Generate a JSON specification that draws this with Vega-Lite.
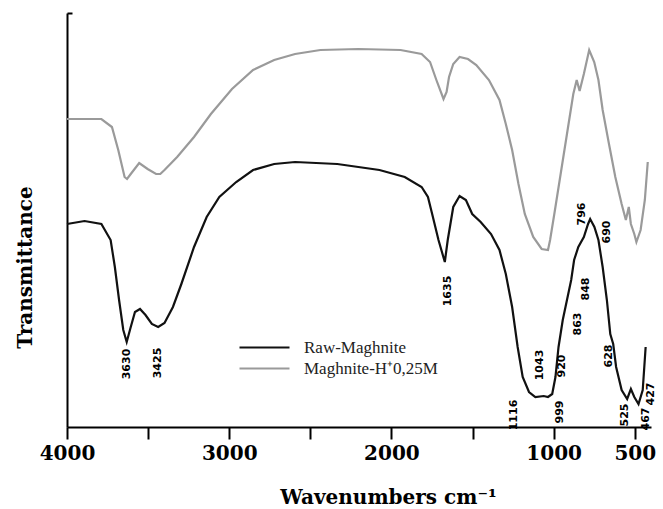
{
  "$schema": "https://vega.github.io/schema/vega-lite/v6.json",
  "width": 584,
  "height": 414,
  "autosize": "none",
  "padding": {"left": 67, "top": 13, "right": 12, "bottom": 82},
  "background": "#ffffff",
  "config": {"view": {"stroke": null}},
  "datasets": {
    "spectra": [
      {"wn": 4000, "T": 308, "series": "Maghnite-H⁺0,25M"},
      {"wn": 3788, "T": 308, "series": "Maghnite-H⁺0,25M"},
      {"wn": 3723, "T": 300, "series": "Maghnite-H⁺0,25M"},
      {"wn": 3684, "T": 277, "series": "Maghnite-H⁺0,25M"},
      {"wn": 3645, "T": 250, "series": "Maghnite-H⁺0,25M"},
      {"wn": 3630, "T": 248, "series": "Maghnite-H⁺0,25M"},
      {"wn": 3607, "T": 253, "series": "Maghnite-H⁺0,25M"},
      {"wn": 3555, "T": 264, "series": "Maghnite-H⁺0,25M"},
      {"wn": 3503, "T": 258, "series": "Maghnite-H⁺0,25M"},
      {"wn": 3451, "T": 253, "series": "Maghnite-H⁺0,25M"},
      {"wn": 3425, "T": 253, "series": "Maghnite-H⁺0,25M"},
      {"wn": 3399, "T": 257, "series": "Maghnite-H⁺0,25M"},
      {"wn": 3321, "T": 270, "series": "Maghnite-H⁺0,25M"},
      {"wn": 3217, "T": 290, "series": "Maghnite-H⁺0,25M"},
      {"wn": 3113, "T": 313, "series": "Maghnite-H⁺0,25M"},
      {"wn": 2983, "T": 338, "series": "Maghnite-H⁺0,25M"},
      {"wn": 2853, "T": 357, "series": "Maghnite-H⁺0,25M"},
      {"wn": 2723, "T": 367, "series": "Maghnite-H⁺0,25M"},
      {"wn": 2594, "T": 373, "series": "Maghnite-H⁺0,25M"},
      {"wn": 2438, "T": 377, "series": "Maghnite-H⁺0,25M"},
      {"wn": 2204, "T": 378, "series": "Maghnite-H⁺0,25M"},
      {"wn": 1944, "T": 377, "series": "Maghnite-H⁺0,25M"},
      {"wn": 1814, "T": 373, "series": "Maghnite-H⁺0,25M"},
      {"wn": 1762, "T": 365, "series": "Maghnite-H⁺0,25M"},
      {"wn": 1723, "T": 347, "series": "Maghnite-H⁺0,25M"},
      {"wn": 1679, "T": 328, "series": "Maghnite-H⁺0,25M"},
      {"wn": 1660, "T": 335, "series": "Maghnite-H⁺0,25M"},
      {"wn": 1645, "T": 350, "series": "Maghnite-H⁺0,25M"},
      {"wn": 1619, "T": 363, "series": "Maghnite-H⁺0,25M"},
      {"wn": 1580, "T": 370, "series": "Maghnite-H⁺0,25M"},
      {"wn": 1528, "T": 368, "series": "Maghnite-H⁺0,25M"},
      {"wn": 1477, "T": 362, "series": "Maghnite-H⁺0,25M"},
      {"wn": 1399, "T": 347, "series": "Maghnite-H⁺0,25M"},
      {"wn": 1334, "T": 327, "series": "Maghnite-H⁺0,25M"},
      {"wn": 1295, "T": 303, "series": "Maghnite-H⁺0,25M"},
      {"wn": 1256, "T": 277, "series": "Maghnite-H⁺0,25M"},
      {"wn": 1217, "T": 243, "series": "Maghnite-H⁺0,25M"},
      {"wn": 1178, "T": 213, "series": "Maghnite-H⁺0,25M"},
      {"wn": 1126, "T": 190, "series": "Maghnite-H⁺0,25M"},
      {"wn": 1074, "T": 178, "series": "Maghnite-H⁺0,25M"},
      {"wn": 1035, "T": 177, "series": "Maghnite-H⁺0,25M"},
      {"wn": 1022, "T": 187, "series": "Maghnite-H⁺0,25M"},
      {"wn": 996, "T": 213, "series": "Maghnite-H⁺0,25M"},
      {"wn": 957, "T": 253, "series": "Maghnite-H⁺0,25M"},
      {"wn": 918, "T": 293, "series": "Maghnite-H⁺0,25M"},
      {"wn": 879, "T": 333, "series": "Maghnite-H⁺0,25M"},
      {"wn": 858, "T": 347, "series": "Maghnite-H⁺0,25M"},
      {"wn": 840, "T": 336, "series": "Maghnite-H⁺0,25M"},
      {"wn": 814, "T": 353, "series": "Maghnite-H⁺0,25M"},
      {"wn": 781, "T": 377, "series": "Maghnite-H⁺0,25M"},
      {"wn": 750, "T": 365, "series": "Maghnite-H⁺0,25M"},
      {"wn": 724, "T": 347, "series": "Maghnite-H⁺0,25M"},
      {"wn": 698, "T": 317, "series": "Maghnite-H⁺0,25M"},
      {"wn": 659, "T": 283, "series": "Maghnite-H⁺0,25M"},
      {"wn": 620, "T": 250, "series": "Maghnite-H⁺0,25M"},
      {"wn": 581, "T": 223, "series": "Maghnite-H⁺0,25M"},
      {"wn": 555, "T": 207, "series": "Maghnite-H⁺0,25M"},
      {"wn": 537, "T": 220, "series": "Maghnite-H⁺0,25M"},
      {"wn": 524, "T": 203, "series": "Maghnite-H⁺0,25M"},
      {"wn": 503, "T": 193, "series": "Maghnite-H⁺0,25M"},
      {"wn": 490, "T": 185, "series": "Maghnite-H⁺0,25M"},
      {"wn": 464, "T": 197, "series": "Maghnite-H⁺0,25M"},
      {"wn": 438, "T": 227, "series": "Maghnite-H⁺0,25M"},
      {"wn": 420, "T": 265, "series": "Maghnite-H⁺0,25M"},
      {"wn": 4000, "T": 203, "series": "Raw-Maghnite"},
      {"wn": 3892, "T": 206, "series": "Raw-Maghnite"},
      {"wn": 3788, "T": 203, "series": "Raw-Maghnite"},
      {"wn": 3731, "T": 187, "series": "Raw-Maghnite"},
      {"wn": 3705, "T": 160, "series": "Raw-Maghnite"},
      {"wn": 3679, "T": 127, "series": "Raw-Maghnite"},
      {"wn": 3653, "T": 97, "series": "Raw-Maghnite"},
      {"wn": 3632, "T": 85, "series": "Raw-Maghnite"},
      {"wn": 3607, "T": 100, "series": "Raw-Maghnite"},
      {"wn": 3581, "T": 115, "series": "Raw-Maghnite"},
      {"wn": 3550, "T": 118, "series": "Raw-Maghnite"},
      {"wn": 3516, "T": 112, "series": "Raw-Maghnite"},
      {"wn": 3477, "T": 103, "series": "Raw-Maghnite"},
      {"wn": 3438, "T": 100, "series": "Raw-Maghnite"},
      {"wn": 3399, "T": 104, "series": "Raw-Maghnite"},
      {"wn": 3347, "T": 120, "series": "Raw-Maghnite"},
      {"wn": 3295, "T": 143, "series": "Raw-Maghnite"},
      {"wn": 3217, "T": 180, "series": "Raw-Maghnite"},
      {"wn": 3139, "T": 210, "series": "Raw-Maghnite"},
      {"wn": 3061, "T": 230, "series": "Raw-Maghnite"},
      {"wn": 2957, "T": 245, "series": "Raw-Maghnite"},
      {"wn": 2853, "T": 257, "series": "Raw-Maghnite"},
      {"wn": 2723, "T": 263, "series": "Raw-Maghnite"},
      {"wn": 2594, "T": 265, "series": "Raw-Maghnite"},
      {"wn": 2334, "T": 263, "series": "Raw-Maghnite"},
      {"wn": 2074, "T": 257, "series": "Raw-Maghnite"},
      {"wn": 1918, "T": 250, "series": "Raw-Maghnite"},
      {"wn": 1814, "T": 240, "series": "Raw-Maghnite"},
      {"wn": 1775, "T": 230, "series": "Raw-Maghnite"},
      {"wn": 1749, "T": 213, "series": "Raw-Maghnite"},
      {"wn": 1710, "T": 187, "series": "Raw-Maghnite"},
      {"wn": 1671, "T": 165, "series": "Raw-Maghnite"},
      {"wn": 1653, "T": 187, "series": "Raw-Maghnite"},
      {"wn": 1619, "T": 220, "series": "Raw-Maghnite"},
      {"wn": 1580, "T": 231, "series": "Raw-Maghnite"},
      {"wn": 1541, "T": 227, "series": "Raw-Maghnite"},
      {"wn": 1502, "T": 213, "series": "Raw-Maghnite"},
      {"wn": 1450, "T": 205, "series": "Raw-Maghnite"},
      {"wn": 1386, "T": 193, "series": "Raw-Maghnite"},
      {"wn": 1334, "T": 177, "series": "Raw-Maghnite"},
      {"wn": 1295, "T": 153, "series": "Raw-Maghnite"},
      {"wn": 1256, "T": 120, "series": "Raw-Maghnite"},
      {"wn": 1222, "T": 80, "series": "Raw-Maghnite"},
      {"wn": 1191, "T": 50, "series": "Raw-Maghnite"},
      {"wn": 1152, "T": 35, "series": "Raw-Maghnite"},
      {"wn": 1113, "T": 30, "series": "Raw-Maghnite"},
      {"wn": 1061, "T": 31, "series": "Raw-Maghnite"},
      {"wn": 1035, "T": 30, "series": "Raw-Maghnite"},
      {"wn": 1009, "T": 33, "series": "Raw-Maghnite"},
      {"wn": 989, "T": 50, "series": "Raw-Maghnite"},
      {"wn": 970, "T": 80, "series": "Raw-Maghnite"},
      {"wn": 944, "T": 107, "series": "Raw-Maghnite"},
      {"wn": 918, "T": 127, "series": "Raw-Maghnite"},
      {"wn": 892, "T": 147, "series": "Raw-Maghnite"},
      {"wn": 874, "T": 167, "series": "Raw-Maghnite"},
      {"wn": 848, "T": 180, "series": "Raw-Maghnite"},
      {"wn": 814, "T": 190, "series": "Raw-Maghnite"},
      {"wn": 788, "T": 203, "series": "Raw-Maghnite"},
      {"wn": 775, "T": 208, "series": "Raw-Maghnite"},
      {"wn": 749, "T": 200, "series": "Raw-Maghnite"},
      {"wn": 724, "T": 187, "series": "Raw-Maghnite"},
      {"wn": 698, "T": 160, "series": "Raw-Maghnite"},
      {"wn": 672, "T": 127, "series": "Raw-Maghnite"},
      {"wn": 651, "T": 93, "series": "Raw-Maghnite"},
      {"wn": 633, "T": 83, "series": "Raw-Maghnite"},
      {"wn": 615, "T": 60, "series": "Raw-Maghnite"},
      {"wn": 581, "T": 37, "series": "Raw-Maghnite"},
      {"wn": 547, "T": 28, "series": "Raw-Maghnite"},
      {"wn": 524, "T": 38, "series": "Raw-Maghnite"},
      {"wn": 503, "T": 30, "series": "Raw-Maghnite"},
      {"wn": 477, "T": 23, "series": "Raw-Maghnite"},
      {"wn": 451, "T": 37, "series": "Raw-Maghnite"},
      {"wn": 433, "T": 80, "series": "Raw-Maghnite"}
    ],
    "labels": [
      {"wn": 3632, "T": 63, "label": "3630"},
      {"wn": 3438, "T": 64, "label": "3425"},
      {"wn": 1651, "T": 136, "label": "1635"},
      {"wn": 1243, "T": 12, "label": "1116"},
      {"wn": 1082, "T": 62, "label": "1043"},
      {"wn": 963, "T": 15, "label": "999"},
      {"wn": 950, "T": 61, "label": "920"},
      {"wn": 848, "T": 103, "label": "863"},
      {"wn": 800, "T": 138, "label": "848"},
      {"wn": 827, "T": 213, "label": "796"},
      {"wn": 672, "T": 195, "label": "690"},
      {"wn": 659, "T": 71, "label": "628"},
      {"wn": 562, "T": 12, "label": "525"},
      {"wn": 433, "T": 8, "label": "467"},
      {"wn": 402, "T": 33, "label": "427"}
    ]
  },
  "layer": [
    {
      "data": {"name": "spectra"},
      "mark": {"type": "line", "strokeWidth": 2.2, "clip": false},
      "encoding": {
        "x": {
          "field": "wn", "type": "quantitative",
          "scale": {"domain": [400, 4000], "reverse": true, "nice": false, "zero": false},
          "axis": {
            "values": [4000, 3500, 3000, 2500, 2000, 1500, 1000, 500],
            "labelExpr": "indexof([4000,3000,2000,1000,500], datum.value) >= 0 ? datum.value : ''",
            "grid": false,
            "domainColor": "#000", "domainWidth": 2,
            "tickColor": "#000", "tickWidth": 2, "tickSize": 12,
            "labelFont": "DejaVu Serif", "labelFontWeight": "bold", "labelFontSize": 20,
            "labelColor": "#000", "labelPadding": 4, "labelFlush": false,
            "title": "Wavenumbers cm⁻¹",
            "titleFont": "DejaVu Serif", "titleFontWeight": "bold", "titleFontSize": 20,
            "titleColor": "#000", "titlePadding": 24, "titleX": 321, "titleAnchor": "middle"
          }
        },
        "y": {
          "field": "T", "type": "quantitative",
          "scale": {"domain": [0, 414], "nice": false, "zero": true},
          "axis": {
            "values": [414],
            "labels": false,
            "grid": false,
            "domainColor": "#000", "domainWidth": 2,
            "tickColor": "#000", "tickWidth": 2, "tickSize": -5,
            "title": "Transmittance",
            "titleFont": "DejaVu Serif", "titleFontWeight": "bold", "titleFontSize": 20,
            "titleColor": "#000", "titleAngle": -90,
            "titleX": -42, "titleY": 254, "titleAlign": "center", "titleBaseline": "middle"
          }
        },
        "color": {
          "field": "series", "type": "nominal",
          "scale": {"domain": ["Raw-Maghnite", "Maghnite-H⁺0,25M"], "range": ["#111111", "#9a9a9a"]},
          "legend": {
            "title": null, "orient": "none", "legendX": 189, "legendY": 326,
            "symbolType": "M-5,0H5", "symbolSize": 100, "symbolStrokeWidth": 2,
            "labelFont": "Liberation Serif", "labelFontSize": 17, "labelColor": "#222",
            "labelOffset": 31, "rowPadding": 3, "padding": 0
          }
        }
      }
    },
    {
      "data": {"name": "labels"},
      "mark": {"type": "text", "angle": 270, "align": "center", "baseline": "middle",
               "font": "DejaVu Sans", "fontWeight": "bold", "fontSize": 11, "color": "#000"},
      "encoding": {
        "x": {"field": "wn", "type": "quantitative"},
        "y": {"field": "T", "type": "quantitative"},
        "text": {"field": "label"}
      }
    }
  ]
}
